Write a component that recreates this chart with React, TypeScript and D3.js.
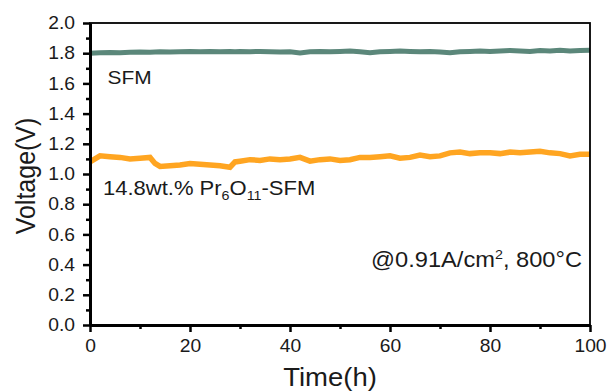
import { useEffect, useRef } from 'react';
import * as d3 from 'd3';

// Time (h) sampling points
const timeH = [
  0, 2, 4, 6, 8, 10, 12, 13, 14, 16, 18, 20, 22, 24, 26, 28, 29, 30, 32, 34, 36, 38, 40, 42, 44, 46, 48,
  50, 52, 54, 56, 58, 60, 62, 64, 66, 68, 70, 72, 74, 76, 78, 80, 82, 84, 86, 88, 90, 92, 94, 96, 98, 100,
];

// SFM voltage (V)
const sfmV = [
  1.800, 1.803, 1.805, 1.803, 1.806, 1.808, 1.806, 1.808, 1.810, 1.808, 1.810, 1.812, 1.810, 1.812, 1.810, 1.812,
  1.810, 1.812, 1.810, 1.812, 1.810, 1.808, 1.810, 1.802, 1.810, 1.812, 1.810, 1.812, 1.815, 1.810, 1.803, 1.810,
  1.812, 1.815, 1.812, 1.810, 1.812, 1.808, 1.803, 1.810, 1.812, 1.815, 1.812, 1.815, 1.818, 1.815, 1.812, 1.818,
  1.815, 1.820, 1.815, 1.818, 1.820,
];

// 14.8wt.% Pr6O11-SFM voltage (V)
const prV = [
  1.080, 1.120, 1.115, 1.110, 1.100, 1.105, 1.110, 1.070, 1.050, 1.055, 1.060, 1.070, 1.065, 1.060, 1.055, 1.045,
  1.080, 1.085, 1.095, 1.090, 1.100, 1.095, 1.100, 1.110, 1.085, 1.095, 1.100, 1.090, 1.095, 1.110, 1.110, 1.115,
  1.120, 1.105, 1.110, 1.125, 1.115, 1.120, 1.140, 1.145, 1.135, 1.140, 1.140, 1.135, 1.145, 1.140, 1.145, 1.150,
  1.140, 1.135, 1.120, 1.130, 1.130,
];

const xTicks = [0, 20, 40, 60, 80, 100];
const yTicks = [0, 0.2, 0.4, 0.6, 0.8, 1.0, 1.2, 1.4, 1.6, 1.8, 2.0];

const W = 609;
const H = 391;
const FONT = 'Arial, "Liberation Sans", sans-serif';
const SX = 1.1; // glyphs in the source are slightly wider than plain Arial
const INK = '#1a1a1a';

export default function App() {
  const svgRef = useRef<SVGSVGElement>(null);

  useEffect(() => {
    if (!svgRef.current) return;
    const root = d3.select(svgRef.current);
    root.selectAll('*').remove();

    const margin = { left: 90, right: 19, top: 23, bottom: 66 };
    const w = W - margin.left - margin.right;
    const h = H - margin.top - margin.bottom;

    const svg = root.append('g').attr('transform', `translate(${margin.left},${margin.top})`);

    const x = d3.scaleLinear().domain([0, 100]).range([0, w]);
    const y = d3.scaleLinear().domain([0, 2]).range([h, 0]);

    // series
    const line = d3
      .line<number>()
      .x((_, i) => x(timeH[i]))
      .y((d) => y(d));

    svg
      .append('path')
      .datum(sfmV)
      .attr('d', line)
      .attr('fill', 'none')
      .attr('stroke', '#5b877a')
      .attr('stroke-width', 5);

    svg
      .append('path')
      .datum(prV)
      .attr('d', line)
      .attr('fill', 'none')
      .attr('stroke', '#ffa521')
      .attr('stroke-width', 5.5);

    // frame
    svg
      .append('rect')
      .attr('width', w)
      .attr('height', h)
      .attr('fill', 'none')
      .attr('stroke', '#000')
      .attr('stroke-width', 1.8);

    // bottom axis
    const xAxis = svg
      .append('g')
      .attr('transform', `translate(0,${h})`)
      .call(d3.axisBottom(x).tickValues(xTicks).tickSize(7).tickSizeOuter(0).tickPadding(8));
    svg
      .append('g')
      .attr('transform', `translate(0,${h})`)
      .call(d3.axisBottom(x).tickValues(d3.range(10, 100, 20)).tickSize(4).tickSizeOuter(0).tickFormat(() => ''))
      .select('.domain')
      .remove();

    // left axis
    const yAxis = svg
      .append('g')
      .call(d3.axisLeft(y).tickValues(yTicks).tickSize(7).tickSizeOuter(0).tickFormat(d3.format('.1f')));
    svg
      .append('g')
      .call(d3.axisLeft(y).tickValues(d3.range(0.1, 2, 0.2)).tickSize(4).tickSizeOuter(0).tickFormat(() => ''))
      .select('.domain')
      .remove();

    svg.selectAll('.domain').attr('stroke', '#000').attr('stroke-width', 3);
    svg.selectAll('.tick line').attr('stroke', '#000').attr('stroke-width', 2.5);

    xAxis
      .selectAll('text')
      .attr('fill', INK)
      .style('font-size', '17.5px')
      .style('font-family', FONT)
      .attr('transform', `scale(${SX},1)`)
      .attr('x', 0);
    yAxis
      .selectAll('text')
      .attr('fill', INK)
      .style('font-size', '17.5px')
      .style('font-family', FONT)
      .attr('x', 0)
      .attr('transform', `translate(-15,0) scale(${SX},1)`);

    const label = (px: number, py: number, size: number, anchor = 'start') =>
      svg
        .append('text')
        .attr('transform', `translate(${px},${py}) scale(${SX},1)`)
        .attr('text-anchor', anchor)
        .style('font-family', FONT)
        .style('font-size', `${size}px`)
        .attr('fill', INK);

    // axis titles
    label(w / 2 - 10, h + 61, 25, 'middle').text('Time(h)');

    svg
      .append('text')
      .attr('transform', `translate(${35 - margin.left},${176 - margin.top}) rotate(-90) scale(1,${SX})`)
      .attr('text-anchor', 'middle')
      .style('font-family', FONT)
      .style('font-size', '25px')
      .attr('fill', INK)
      .text('Voltage(V)');

    // annotations
    label(x(3.5), y(1.598), 19).text('SFM');

    const pr = label(x(2.6), y(0.86), 20);
    pr.append('tspan').text('14.8wt.% Pr');
    pr.append('tspan').attr('dy', 5).style('font-size', '13px').text('6');
    pr.append('tspan').attr('dy', -5).text('O');
    pr.append('tspan').attr('dy', 5).style('font-size', '13px').text('11');
    pr.append('tspan').attr('dy', -5).text('-SFM');

    const cond = label(x(98.4), y(0.385), 21.5, 'end');
    cond.append('tspan').text('@0.91A/cm');
    cond.append('tspan').attr('dy', -8).style('font-size', '13px').text('2');
    cond.append('tspan').attr('dy', 8).text(', 800°C');
  }, []);

  return (
    <div style={{ position: 'absolute', left: 0, top: 0, width: W, height: H, background: '#fff' }}>
      <svg ref={svgRef} width={W} height={H} />
    </div>
  );
}
